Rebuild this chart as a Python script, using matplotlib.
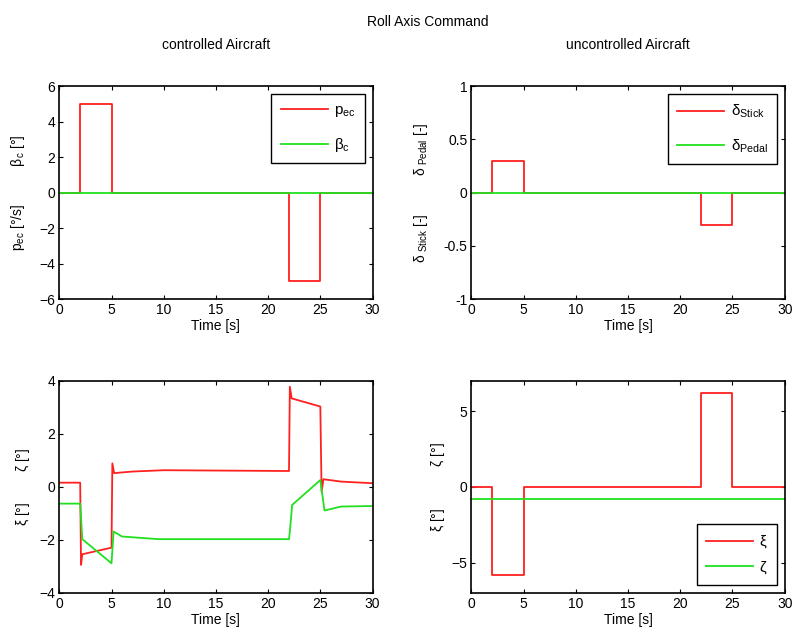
import matplotlib.pyplot as plt

plt.rcParams['font.family'] = ['Liberation Sans Narrow', 'Liberation Sans', 'DejaVu Sans']
plt.rcParams['mathtext.default'] = 'regular'
plt.rcParams['font.size'] = 10

# controlled aircraft, commands
t_cmd = [0, 2, 2, 5, 5, 22, 22, 25, 25, 30]
p_ec = [0, 0, 5, 5, 0, 0, -5, -5, 0, 0]
beta_c = [0, 0, 0, 0, 0, 0, 0, 0, 0, 0]

# uncontrolled aircraft, stick / pedal
d_stick = [0, 0, 0.3, 0.3, 0, 0, -0.3, -0.3, 0, 0]
d_pedal = [0, 0, 0, 0, 0, 0, 0, 0, 0, 0]

# controlled aircraft, surface deflections
t_xi = [0, 2.0, 2.08, 2.2, 5.0, 5.08, 5.25, 7, 10, 22.0, 22.08, 22.25, 25.0, 25.12, 25.3, 27, 30]
xi_c = [0.16, 0.16, -2.94, -2.54, -2.29, 0.89, 0.52, 0.58, 0.63, 0.6, 3.78, 3.34, 3.03, -0.18, 0.29, 0.2, 0.14]
t_zeta = [0, 2.0, 2.2, 5.0, 5.2, 6, 9.5, 22.0, 22.1, 22.3, 25.0, 25.4, 27, 30]
zeta_c = [-0.63, -0.63, -1.97, -2.88, -1.68, -1.87, -1.97, -1.97, -1.6, -0.68, 0.26, -0.89, -0.74, -0.72]

# uncontrolled aircraft, surface deflections
xi_u = [0, 0, -5.8, -5.8, 0, 0, 6.2, 6.2, 0, 0]
zeta_u = [-0.8] * 10

RED = '#ff2020'
GREEN = '#20e020'

fig = plt.figure(figsize=(7.95, 6.39), dpi=100)
ax1 = fig.add_axes([0.0746, 0.532, 0.394, 0.333])
ax2 = fig.add_axes([0.593, 0.532, 0.394, 0.333])
ax3 = fig.add_axes([0.0746, 0.072, 0.394, 0.332])
ax4 = fig.add_axes([0.593, 0.072, 0.394, 0.332])

leg_kw = dict(fancybox=False, edgecolor='black', framealpha=1, fontsize=11,
              handlelength=3.1, handletextpad=0.4, borderpad=0.6, borderaxespad=0.5)

ax1.plot(t_cmd, p_ec, color=RED, lw=1.3, label='$p_{ec}$')
ax1.plot(t_cmd, beta_c, color=GREEN, lw=1.3, label=r'$\beta_c$')
ax1.set_ylim(-6, 6)
ax1.set_yticks([-6, -4, -2, 0, 2, 4, 6])
ax1.set_ylabel(r'$p_{ec}$ [°/s]          $\beta_c$ [°]')
ax1.yaxis.set_label_coords(-0.103, 0.5)
ax1.set_title('controlled Aircraft', pad=27, fontsize=10)
ax1.legend(loc='upper right', labelspacing=1.1, **leg_kw)

ax2.plot(t_cmd, d_stick, color=RED, lw=1.3, label=r'$\delta_{Stick}$')
ax2.plot(t_cmd, d_pedal, color=GREEN, lw=1.3, label=r'$\delta_{Pedal}$')
ax2.set_ylim(-1, 1)
ax2.set_yticks([-1, -0.5, 0, 0.5, 1])
ax2.set_yticklabels(['-1', '-0.5', '0', '0.5', '1'])
ax2.set_ylabel(r'$\delta_{\ Stick}$ [-]          $\delta_{\ Pedal}$ [-]')
ax2.yaxis.set_label_coords(-0.133, 0.5)
ax2.set_title('uncontrolled Aircraft', pad=27, fontsize=10)
ax2.legend(loc='upper right', labelspacing=1.1, **leg_kw)

ax3.plot(t_xi, xi_c, color=RED, lw=1.3)
ax3.plot(t_zeta, zeta_c, color=GREEN, lw=1.3)
ax3.set_ylim(-4, 4)
ax3.set_yticks([-4, -2, 0, 2, 4])
ax3.set_ylabel(r'$\xi$ [°]        $\zeta$ [°]')
ax3.yaxis.set_label_coords(-0.087, 0.5)

ax4.plot(t_cmd, xi_u, color=RED, lw=1.3, label=r'$\xi$')
ax4.plot(t_cmd, zeta_u, color=GREEN, lw=1.3, label=r'$\zeta$')
ax4.set_ylim(-7, 7)
ax4.set_yticks([-5, 0, 5])
ax4.set_ylabel(r'$\xi$ [°]           $\zeta$ [°]')
ax4.yaxis.set_label_coords(-0.079, 0.5)
ax4.legend(loc='lower right', labelspacing=0.6, **leg_kw)

for ax in (ax1, ax2, ax3, ax4):
    ax.set_xlim(0, 30)
    ax.set_xticks([0, 5, 10, 15, 20, 25, 30])
    ax.set_xlabel('Time [s]', labelpad=1)
    ax.tick_params(direction='in', top=True, right=True, length=3, pad=3)
    for s in ax.spines.values():
        s.set_linewidth(1.2)

fig.text(0.538, 0.965, 'Roll Axis Command', ha='center', va='center')

fig.savefig('out.png', dpi=100)
